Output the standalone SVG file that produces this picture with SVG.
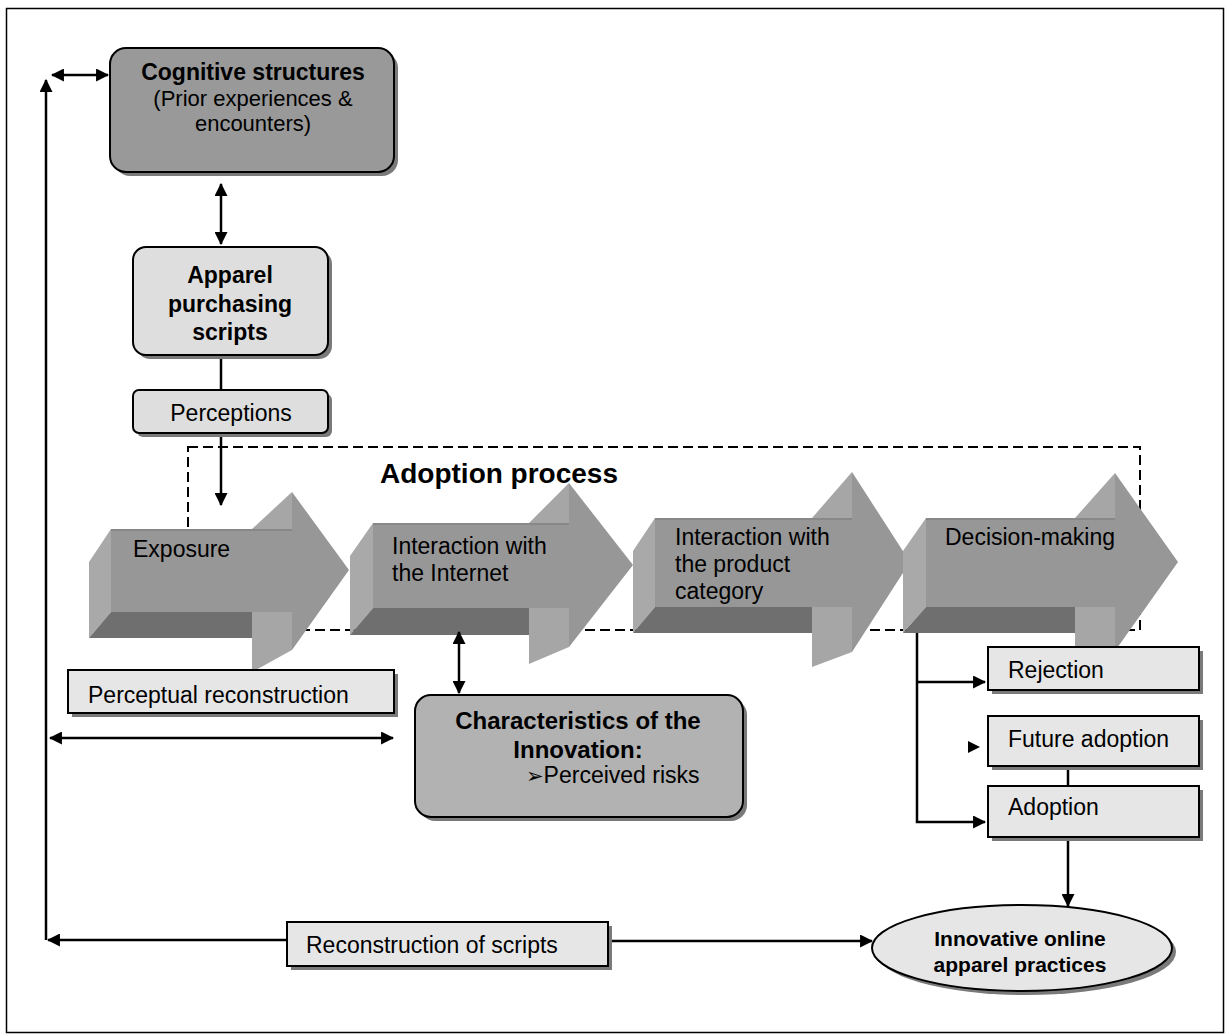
<svg xmlns="http://www.w3.org/2000/svg" width="1225" height="1034" viewBox="0 0 1225 1034">
<defs>
<marker id="ah" viewBox="0 0 12 12" markerWidth="13" markerHeight="13" refX="11" refY="6" orient="auto-start-reverse" markerUnits="userSpaceOnUse">
<path d="M0,0 L12,6 L0,12 Z" fill="#000"/>
</marker>
<style>
.t{font-family:"Liberation Sans",Arial,sans-serif;font-size:23px;fill:#000}
.b{font-family:"Liberation Sans",Arial,sans-serif;font-size:23px;font-weight:bold;fill:#000}
.box{stroke:#000;stroke-width:2}
.sh{fill:#7a7a7a}
.ln{stroke:#000;stroke-width:2.5;fill:none}
.front{fill:#979797}
.side{fill:#a9a9a9}
.bot{fill:#6f6f6f}
.wing{fill:#a6a6a6}
</style>
</defs>
<rect x="0" y="0" width="1225" height="1034" fill="#fff"/>
<rect x="6.5" y="8.5" width="1217" height="1024" fill="none" stroke="#000" stroke-width="1.5"/>

<g id="adoption-process">
<rect x="188" y="447" width="952" height="183" fill="none" stroke="#000" stroke-width="2" stroke-dasharray="10,5"/>
<text class="b" x="380" y="483" style="font-size:28px">Adoption process</text>
</g>

<g id="exposure">
<polygon class="side" points="111,529 89,562 89,638 111,612"/>
<polygon class="bot" points="111,612 292,612 252,638 89,638"/>
<polygon class="wing" points="252,529 292,492 292,529"/>
<polygon class="wing" points="252,612 292,612 292,650 252,672"/>
<polygon class="front" points="111,529 292,529 292,492 349,570 292,650 292,612 111,612"/>
<line x1="111" y1="530" x2="292" y2="530" stroke="#888" stroke-width="2"/>
<text class="t" x="133" y="557">Exposure</text>
</g>

<g id="interaction-internet">
<polygon class="side" points="373,523 350,556 350,635 373,608"/>
<polygon class="bot" points="373,608 569,608 529,635 350,635"/>
<polygon class="wing" points="529,523 569,483 569,523"/>
<polygon class="wing" points="529,608 569,608 569,647 529,664"/>
<polygon class="front" points="373,523 569,523 569,483 633,565 569,647 569,608 373,608"/>
<line x1="373" y1="524" x2="569" y2="524" stroke="#888" stroke-width="2"/>
<text class="t" x="392" y="554">Interaction with</text>
<text class="t" x="392" y="581">the Internet</text>
</g>

<g id="interaction-product">
<polygon class="side" points="655,518 633,551 633,633 655,607"/>
<polygon class="bot" points="655,607 852,607 812,633 633,633"/>
<polygon class="wing" points="812,518 852,472 852,518"/>
<polygon class="wing" points="812,607 852,607 852,652 812,667"/>
<polygon class="front" points="655,518 852,518 852,472 910,562 852,652 852,607 655,607"/>
<line x1="655" y1="519" x2="852" y2="519" stroke="#888" stroke-width="2"/>
<text class="t" x="675" y="545">Interaction with</text>
<text class="t" x="675" y="572">the product</text>
<text class="t" x="675" y="599">category</text>
</g>

<g id="decision-making">
<polygon class="side" points="926,518 903,551 903,633 926,607"/>
<polygon class="bot" points="926,607 1115,607 1075,633 903,633"/>
<polygon class="wing" points="1075,518 1115,473 1115,518"/>
<polygon class="wing" points="1075,607 1115,607 1115,651 1075,666"/>
<polygon class="front" points="926,518 1115,518 1115,473 1178,562 1115,651 1115,607 926,607"/>
<line x1="926" y1="519" x2="1115" y2="519" stroke="#888" stroke-width="2"/>
<text class="t" x="945" y="545">Decision-making</text>
</g>

<g id="connectors">
<line class="ln" x1="52" y1="75" x2="108" y2="75" marker-start="url(#ah)" marker-end="url(#ah)"/>
<line class="ln" x1="46" y1="940" x2="46" y2="80" marker-end="url(#ah)"/>
<line class="ln" x1="221" y1="184" x2="221" y2="244" marker-start="url(#ah)" marker-end="url(#ah)"/>
<line class="ln" x1="221" y1="355" x2="221" y2="390"/>
<line class="ln" x1="221" y1="433" x2="221" y2="505" marker-end="url(#ah)"/>
<line class="ln" x1="459" y1="632" x2="459" y2="693" marker-start="url(#ah)" marker-end="url(#ah)"/>
<line class="ln" x1="50" y1="738" x2="393" y2="738" marker-start="url(#ah)" marker-end="url(#ah)"/>
<path class="ln" d="M917,633 V822 H985" marker-end="url(#ah)"/>
<path class="ln" d="M917,682 H985" marker-end="url(#ah)"/>
<path d="M968,741 L980,747 L968,753 Z" fill="#000"/>
<line class="ln" x1="1068" y1="766" x2="1068" y2="786"/>
<line class="ln" x1="1068" y1="837" x2="1068" y2="906" marker-end="url(#ah)"/>
<line class="ln" x1="287" y1="940" x2="48" y2="940" marker-end="url(#ah)"/>
<line class="ln" x1="612" y1="941" x2="872" y2="941" marker-end="url(#ah)"/>
</g>

<g id="cognitive-structures">
<rect class="sh" x="114" y="52" width="284" height="124" rx="16"/>
<rect class="box" x="110" y="48" width="284" height="124" rx="16" fill="#999"/>
<text class="b" x="253" y="80" text-anchor="middle">Cognitive structures</text>
<text class="t" x="253" y="106" text-anchor="middle" style="font-size:22px">(Prior experiences &amp;</text>
<text class="t" x="253" y="131" text-anchor="middle" style="font-size:22px">encounters)</text>
</g>

<g id="apparel-scripts">
<rect class="sh" x="137" y="251" width="195" height="108" rx="13"/>
<rect class="box" x="133" y="247" width="195" height="108" rx="13" fill="#dedede"/>
<text class="b" x="230" y="283" text-anchor="middle">Apparel</text>
<text class="b" x="230" y="312" text-anchor="middle">purchasing</text>
<text class="b" x="230" y="340" text-anchor="middle">scripts</text>
</g>

<g id="perceptions">
<rect class="sh" x="137" y="394" width="195" height="43" rx="6"/>
<rect class="box" x="133" y="390" width="195" height="43" rx="6" fill="#dedede"/>
<text class="t" x="231" y="421" text-anchor="middle">Perceptions</text>
</g>

<g id="perceptual-reconstruction">
<rect class="sh" x="72" y="674" width="326" height="43"/>
<rect class="box" x="68" y="670" width="326" height="43" fill="#e6e6e6"/>
<text class="t" x="88" y="703">Perceptual reconstruction</text>
</g>

<g id="characteristics">
<rect class="sh" x="419" y="699" width="328" height="122" rx="16"/>
<rect class="box" x="415" y="695" width="328" height="122" rx="16" fill="#b2b2b2"/>
<text class="b" x="578" y="729" text-anchor="middle" style="font-size:24px">Characteristics of the</text>
<text class="b" x="578" y="758" text-anchor="middle" style="font-size:24px">Innovation:</text>
<text class="t" x="526" y="783"><tspan style="font-family:'DejaVu Sans',sans-serif;font-size:21px">➢</tspan>Perceived risks</text>
</g>

<g id="rejection">
<rect class="sh" x="992" y="651" width="211" height="43"/>
<rect class="box" x="988" y="647" width="211" height="43" fill="#e6e6e6"/>
<text class="t" x="1008" y="678">Rejection</text>
</g>

<g id="future-adoption">
<rect class="sh" x="992" y="720" width="211" height="50"/>
<rect class="box" x="988" y="716" width="211" height="50" fill="#e6e6e6"/>
<text class="t" x="1008" y="747">Future adoption</text>
</g>

<g id="adoption">
<rect class="sh" x="992" y="790" width="211" height="51"/>
<rect class="box" x="988" y="786" width="211" height="51" fill="#e6e6e6"/>
<text class="t" x="1008" y="815">Adoption</text>
</g>

<g id="reconstruction-scripts">
<rect class="sh" x="291" y="926" width="321" height="44"/>
<rect class="box" x="287" y="922" width="321" height="44" fill="#e6e6e6"/>
<text class="t" x="306" y="953">Reconstruction of scripts</text>
</g>

<g id="innovative-practices">
<ellipse class="sh" cx="1026" cy="952" rx="150" ry="43"/>
<ellipse class="box" cx="1022" cy="948" rx="150" ry="43" fill="#e6e6e6"/>
<text class="b" x="1020" y="946" text-anchor="middle" style="font-size:21px">Innovative online</text>
<text class="b" x="1020" y="972" text-anchor="middle" style="font-size:21px">apparel practices</text>
</g>
</svg>
